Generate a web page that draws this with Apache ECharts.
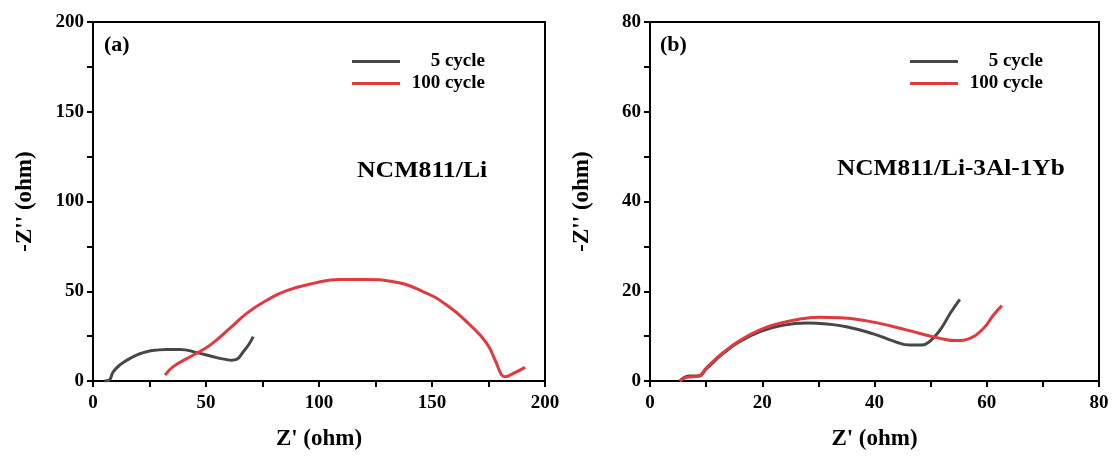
<!DOCTYPE html>
<html>
<head>
<meta charset="utf-8">
<script src="https://cdn.jsdelivr.net/npm/echarts@6/dist/echarts.min.js"></script>
<style>
  html, body { margin: 0; padding: 0; background: #fff; }
  #chart { width: 1115px; height: 457px; }
</style>
</head>
<body>
<div id="chart"></div>
<script>
// panel (a) NCM811/Li  -- [Z', -Z'']
const a5 = [[5, 0], [7, 0.3], [9, 5.2], [12.5, 9.5], [16.4, 12.6], [20, 14.8], [23.7, 16.3], [28, 17.2], [32.6, 17.6],
  [38.5, 17.6], [45.9, 15.8], [53.2, 13.5], [58, 12.2], [61.5, 11.6], [63.5, 12], [66.5, 16.3], [69, 20.5], [70.9, 24.7]]
const a100 = [[31.9, 3.3], [35.5, 8], [44.4, 14.5], [51.8, 20], [60.6, 29.4], [68, 37.7], [76.9, 45], [85.7, 50.3],
  [97.5, 54.4], [109.3, 56.6], [121.1, 56.6], [132.9, 55.3], [146.2, 49.7], [156.5, 42.3], [166.8, 31.2], [174.2, 21],
  [177.9, 11.7], [180.8, 3.3], [182.3, 2.4], [186, 4.3], [191.2, 7.6]]

// panel (b) NCM811/Li-3Al-1Yb
const b5 = [[5.4, 0.1], [7.1, 1.1], [8.6, 1.1], [10.1, 2.8], [13.1, 6.2], [16, 8.8], [19.6, 11], [23.2, 12.3],
  [27.9, 12.9], [31.5, 12.7], [35, 12.1], [39.8, 10.5], [43.4, 8.9], [46.3, 8], [48.4, 8], [49.9, 8.9], [51.7, 11.4],
  [53.5, 15.1], [55.2, 18.2]]
const b100 = [[5.3, 0], [6.5, 0.8], [8.6, 1.1], [10.1, 3], [13.1, 6.4], [16, 9], [19.6, 11.4], [23.2, 12.9],
  [26.7, 13.8], [30.3, 14.2], [33.9, 14.1], [38.6, 13.4], [43.4, 12.1], [48.1, 10.6], [51.7, 9.5], [54.6, 9],
  [57, 9.5], [59.4, 11.7], [61.2, 14.7], [62.7, 16.8]]

const seriesNames = ['5 cycle', '100 cycle']
const colors = ['#474747', '#e0393e']

const FONT = '"Liberation Serif", "Times New Roman", serif'

const makeX = (grid, max, interval) => ({
  gridIndex: grid, type: 'value', min: 0, max: max, interval: interval,
  name: "Z' (ohm)", nameLocation: 'middle', nameGap: 47,
  nameTextStyle: { fontFamily: FONT, fontSize: 23, fontWeight: 'bold', color: '#000' },
  axisLine: { onZero: false, lineStyle: { color: '#000', width: 2 } },
  axisTick: { show: true, length: 6, lineStyle: { width: 2 } },
  minorTick: { show: true, splitNumber: 2, length: 6, lineStyle: { color: '#000', width: 2 } },
  axisLabel: { fontFamily: FONT, fontSize: 19, fontWeight: 'bold', color: '#000', margin: 13 },
  splitLine: { show: false }
})

const makeY = (grid, max, interval) => ({
  gridIndex: grid, type: 'value', min: 0, max: max, interval: interval,
  name: "-Z'' (ohm)", nameLocation: 'middle', nameGap: 56,
  nameTextStyle: { fontFamily: FONT, fontSize: 23, fontWeight: 'bold', color: '#000' },
  axisLine: { onZero: false, lineStyle: { color: '#000', width: 2 } },
  axisTick: { show: true, length: 6, lineStyle: { width: 2 } },
  minorTick: { show: true, splitNumber: 2, length: 6, lineStyle: { color: '#000', width: 2 } },
  axisLabel: { fontFamily: FONT, fontSize: 19, fontWeight: 'bold', color: '#000', margin: 9 },
  splitLine: { show: false }
})

const makeLegend = (left) => ({
  data: seriesNames, orient: 'vertical', left: left, top: 47, itemGap: 3,
  itemWidth: 48, itemHeight: 14, icon: 'path://M0,6 L48,6 L48,9 L0,9 Z',
  formatter: '{t|{name}}',
  textStyle: {
    rich: { t: { fontFamily: FONT, fontSize: 19, fontWeight: 'bold', color: '#000', width: 80, align: 'right' } }
  },
  selectedMode: false
})

const mkSeries = (name, data, idx, color) => ({
  name: name, type: 'line', xAxisIndex: idx, yAxisIndex: idx, data: data,
  smooth: 0.5, symbol: 'none', lineStyle: { color: color, width: 3 }, itemStyle: { color: color }
})

const chart = echarts.init(document.getElementById('chart'))
chart.setOption({
  animation: false,
  grid: [
    { left: 93, top: 22, width: 452, height: 359, show: true, borderColor: '#000', borderWidth: 2 },
    { left: 650, top: 22, width: 449, height: 359, show: true, borderColor: '#000', borderWidth: 2 }
  ],
  xAxis: [makeX(0, 200, 50), makeX(1, 80, 20)],
  yAxis: [makeY(0, 200, 50), makeY(1, 80, 20)],
  legend: [makeLegend(347), makeLegend(905)],
  graphic: [
    { type: 'text', left: 104, top: 34, style: { text: '(a)', font: 'bold 22px ' + FONT, fill: '#000' } },
    { type: 'text', left: 660, top: 34, style: { text: '(b)', font: 'bold 22px ' + FONT, fill: '#000' } },
    { type: 'text', left: 357, top: 160, scaleX: 1.12, style: { text: 'NCM811/Li', font: 'bold 23px ' + FONT, fill: '#000' } },
    { type: 'text', left: 837, top: 158, scaleX: 1.1, style: { text: 'NCM811/Li-3Al-1Yb', font: 'bold 23px ' + FONT, fill: '#000' } }
  ],
  series: [
    mkSeries(seriesNames[0], a5, 0, colors[0]),
    mkSeries(seriesNames[1], a100, 0, colors[1]),
    mkSeries(seriesNames[0], b5, 1, colors[0]),
    mkSeries(seriesNames[1], b100, 1, colors[1])
  ]
})
</script>
</body>
</html>
